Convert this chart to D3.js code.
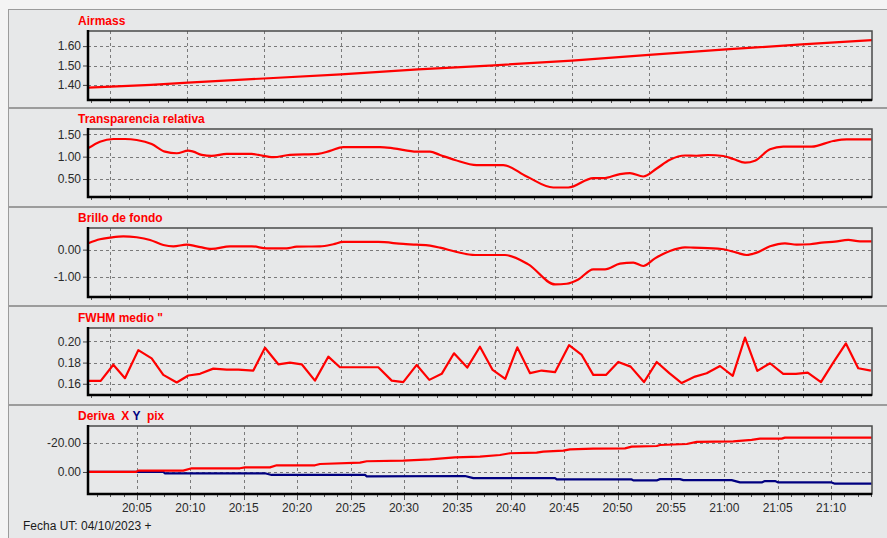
<!DOCTYPE html>
<html>
<head>
<meta charset="utf-8">
<script src="https://cdn.jsdelivr.net/npm/d3@7"></script>
<style>
  body { margin: 0; background: #f3f3f3; }
  svg { display: block; font-family: "Liberation Sans", Arial, sans-serif; }
</style>
</head>
<body>
<div id="chart"></div>
<script>
// tiempo en minutos desde 20:00 UT del 04/10/2023
const airmassT = [0.42, 6.32, 9.78, 16.90, 24.11, 31.32, 38.43, 45.74, 52.95, 60.16, 67.27, 73.83];
const airmassV = [1.386, 1.400, 1.412, 1.433, 1.454, 1.480, 1.501, 1.525, 1.555, 1.583, 1.609, 1.631];

const transT = [0.45, 1.54, 2.79, 3.88, 4.98, 6.38, 7.63, 8.73, 9.81, 10.28, 11.07, 12.0, 13.41, 15.75, 16.37, 17.77, 19.33, 21.98, 23.08, 24.32,
  27.76, 29.01, 31.2, 32.44, 33.38, 34.78, 36.81, 39.31, 41.5, 43.99, 45.39, 47.73, 48.67, 50.23, 51.17, 52.41, 53.67, 54.91, 56.32, 57.41,
  58.5, 59.9, 60.84, 61.94, 62.87, 64.28, 65.52, 68.18, 70.2, 71.46, 73.8];
const transV = [1.19, 1.335, 1.395, 1.395, 1.373, 1.283, 1.112, 1.076, 1.134, 1.112, 1.04, 1.018, 1.062, 1.062, 1.04, 0.988, 1.04, 1.062, 1.129, 1.212,
  1.212, 1.187, 1.112, 1.112, 1.037, 0.926, 0.812, 0.812, 0.556, 0.31, 0.31, 0.52, 0.52, 0.61, 0.632, 0.556, 0.735, 0.93, 1.026, 1.02,
  1.037, 1.015, 0.948, 0.866, 0.91, 1.164, 1.223, 1.223, 1.35, 1.387, 1.387];

const brilloT = [0.45, 1.54, 2.48, 3.73, 4.98, 6.23, 7.47, 8.41, 9.66, 10.6, 12.0, 13.72, 15.75, 17.15, 19.02, 19.96, 22.14, 23.39, 24.32, 27.6,
  29.94, 31.2, 32.44, 33.38, 34.94, 36.66, 39.47, 41.65, 44.15, 45.24, 46.33, 47.73, 48.83, 50.23, 51.48, 52.41, 53.51, 54.91, 56.32, 57.1,
  59.75, 61.16, 62.09, 63.03, 64.28, 65.68, 66.77, 68.02, 69.12, 70.36, 71.61, 72.7, 73.8];
const brilloV = [0.235, 0.383, 0.444, 0.494, 0.457, 0.358, 0.173, 0.123, 0.185, 0.123, 0.025, 0.123, 0.123, 0.05, 0.05, 0.111, 0.123, 0.2, 0.284, 0.284,
  0.21, 0.185, 0.148, 0.074, -0.086, -0.198, -0.198, -0.543, -1.284, -1.26, -1.1, -0.728, -0.728, -0.518, -0.481, -0.605, -0.321, -0.05, 0.086, 0.074,
  0.025, -0.111, -0.198, -0.111, 0.123, 0.235, 0.185, 0.2, 0.26, 0.296, 0.358, 0.309, 0.309];

const fwhmT = [0.45, 1.61, 2.79, 3.88, 5.13, 6.38, 7.47, 8.73, 9.81, 10.91, 12.15, 13.41, 14.49, 15.90, 16.99, 18.24, 19.33, 20.43, 21.67, 22.92,
  24.01, 27.60, 28.86, 29.94, 31.20, 32.38, 33.54, 34.69, 35.93, 37.12, 38.31, 39.49, 40.62, 41.81, 42.90, 44.15, 45.46, 46.65, 47.73, 48.92,
  50.07, 51.23, 52.48, 53.67, 54.85, 56.01, 57.26, 58.35, 59.60, 60.79, 61.94, 63.09, 64.28, 65.52, 66.71, 67.81, 69.05, 70.20, 71.39, 72.54, 73.73];
const fwhmV = [0.1628, 0.1628, 0.178, 0.1653, 0.1918, 0.184, 0.1684, 0.1612, 0.1678, 0.1694, 0.1743, 0.1734, 0.1734, 0.1725, 0.194, 0.1784, 0.180, 0.1784, 0.163, 0.1856,
  0.1756, 0.1756, 0.163, 0.1616, 0.1778, 0.1637, 0.1694, 0.1888, 0.1753, 0.195, 0.1731, 0.1647, 0.1944, 0.170, 0.1725, 0.1710, 0.1965, 0.1872, 0.1684, 0.1684,
  0.1806, 0.1762, 0.1616, 0.1806, 0.170, 0.1607, 0.1668, 0.170, 0.1768, 0.1675, 0.2037, 0.1722, 0.1794, 0.1694, 0.1694, 0.1706, 0.1616, 0.180, 0.1981, 0.1747, 0.1725];

const derivaXT = [0.45, 4.9, 5.13, 9.34, 10.13, 14.65, 15.12, 17.46, 18.09, 21.67, 22.14, 25.89, 26.52, 29.94, 32.44, 34.78, 37.12, 38.99, 39.93, 42.43,
  43.05, 44.92, 45.55, 47.73, 50.7, 51.33, 53.67, 53.98, 56.48, 57.41, 60.84, 62.56, 63.34, 65.37, 65.68, 73.8];
const derivaXV = [0, 0, -0.92, -0.92, -2.53, -2.53, -3.2, -3.2, -4.6, -4.6, -5.5, -6.4, -7.4, -7.8, -8.7, -10.1, -10.6, -11.7, -12.9, -13.3,
  -14.0, -14.7, -15.6, -16.1, -16.3, -17.5, -17.9, -18.6, -19.3, -20.7, -21.1, -22.1, -23.0, -23.0, -23.7, -23.7];

const derivaYT = [0.45, 7.47, 7.63, 16.99, 17.62, 26.36, 26.52, 35.72, 36.5, 44.15, 44.31, 51.33, 51.48, 53.67, 53.98, 55.85, 56.17, 60.69, 61.47, 63.5,
  63.81, 64.75, 65.06, 70.05, 70.36, 73.8];
const derivaYV = [0, 0, 0.92, 0.92, 2.07, 2.07, 2.99, 2.8, 4.27, 4.27, 5.17, 5.17, 5.84, 5.84, 4.94, 4.94, 5.6, 5.6, 7.2, 7.2,
  6.3, 6.3, 7.2, 7.2, 8.1, 8.1];

// marcas de la rejilla vertical de los paneles superiores (minutos)
const upperGridT = [2.48, 9.69, 16.90, 24.11, 31.32, 38.53, 45.74, 52.95, 60.16, 67.37];

const BASE = Date.UTC(2023, 9, 4, 20, 0, 0);
const toDate = m => new Date(BASE + m * 60000);
const zip = (t, v) => t.map((d, i) => ({ t: toDate(d), v: v[i] }));

const RED = "#ff0000", BLUE = "#000080";
const fmt = d3.formatLocale({ decimal: ".", thousands: ",", grouping: [3], currency: ["", ""], minus: "-" }).format(".2f");

const W = 887, H = 538;
const left = 88, right = 872;

const panels = [
  { title: [{ t: "Airmass", c: RED }], top: 9.5, y0: 31, y1: 100, dom: [1.678, 1.322], ticks: [1.4, 1.5, 1.6],
    series: [{ d: zip(airmassT, airmassV), c: RED }] },
  { title: [{ t: "Transparencia relativa", c: RED }], top: 108.5, y0: 129, y1: 197, dom: [1.618, 0.098], ticks: [0.5, 1.0, 1.5],
    series: [{ d: zip(transT, transV), c: RED, curve: d3.curveMonotoneX }] },
  { title: [{ t: "Brillo de fondo", c: RED }], top: 207.5, y0: 228, y1: 297, dom: [0.80, -1.75], ticks: [-1, 0],
    series: [{ d: zip(brilloT, brilloV), c: RED, curve: d3.curveMonotoneX }] },
  { title: [{ t: "FWHM medio \"", c: RED }], top: 306.5, y0: 328, y1: 395, dom: [0.2127, 0.1494], ticks: [0.16, 0.18, 0.20],
    series: [{ d: zip(fwhmT, fwhmV), c: RED }] },
  { title: [{ t: "Deriva  ", c: RED }, { t: "X ", c: RED }, { t: "Y ", c: BLUE }, { t: " pix", c: RED }], top: 405.5, y0: 426, y1: 494,
    dom: [-31.7, 15.2], ticks: [-20, 0], bottom: true,
    series: [{ d: zip(derivaYT, derivaYV), c: BLUE }, { d: zip(derivaXT, derivaXV), c: RED }] }
];

const x = d3.scaleUtc().domain([toDate(0.42), toDate(73.83)]).range([left, right]);

const svg = d3.select("#chart").append("svg").attr("width", W).attr("height", H);
svg.append("rect").attr("width", W).attr("height", H).attr("fill", "#f4f4f4");

panels.forEach((p, i) => {
  const g = svg.append("g");
  const h = i < panels.length - 1 ? 98 : 200;
  g.append("rect").attr("x", 8.5).attr("y", p.top).attr("width", 900).attr("height", h)
    .attr("fill", "#e7e8e9").attr("stroke", "#9c9c9c");

  const y = d3.scaleLinear().domain(p.dom).range([p.y0, p.y1]);

  // titulo
  const title = g.append("text").attr("x", 78).attr("y", p.y0 - 6)
    .attr("font-size", 12).attr("font-weight", "bold").attr("xml:space", "preserve");
  p.title.forEach(s => title.append("tspan").attr("fill", s.c).text(s.t));

  // rejilla
  const gridT = p.bottom ? x.ticks(d3.utcMinute.every(5)) : upperGridT.map(toDate);
  g.append("g").selectAll("line").data(gridT).join("line")
    .attr("x1", d => Math.round(x(d)) + 0.5).attr("x2", d => Math.round(x(d)) + 0.5)
    .attr("y1", p.y0).attr("y2", p.y1)
    .attr("stroke", "#7a7a7a").attr("stroke-dasharray", "3,3");
  g.append("g").selectAll("line").data(p.ticks).join("line")
    .attr("x1", left).attr("x2", right)
    .attr("y1", d => Math.round(y(d)) + 0.5).attr("y2", d => Math.round(y(d)) + 0.5)
    .attr("stroke", "#7a7a7a").attr("stroke-dasharray", "3,3");

  // eje y
  const yAxis = g.append("g").attr("transform", `translate(${left},0)`)
    .call(d3.axisLeft(y).tickValues(p.ticks).tickFormat(fmt).tickSize(5).tickPadding(2));
  yAxis.select(".domain").remove();
  yAxis.selectAll("line").attr("stroke", "#444");
  yAxis.selectAll("text").attr("font-size", 12).attr("fill", "#2a2a2a")
    .attr("font-family", "\"Liberation Sans\", Arial, sans-serif");

  // marcas menores del eje x
  let minor;
  if (p.bottom) {
    minor = d3.range(0, 75, 1.25).map(toDate);
  } else {
    const step = (upperGridT[1] - upperGridT[0]) / 4;
    minor = d3.range(upperGridT[0] - step * 4, 76, step).map(toDate);
  }
  minor = minor.filter(d => d >= x.domain()[0] && d <= x.domain()[1]);
  g.append("g").selectAll("line").data(minor).join("line")
    .attr("x1", d => Math.round(x(d)) + 0.5).attr("x2", d => Math.round(x(d)) + 0.5)
    .attr("y1", p.y1).attr("y2", d => p.y1 + (p.bottom && gridT.some(t => +t === +d) ? 6 : 3))
    .attr("stroke", "#555");

  if (p.bottom) {
    g.append("g").selectAll("text").data(gridT).join("text")
      .attr("x", d => x(d)).attr("y", p.y1 + 18)
      .attr("text-anchor", "middle").attr("font-size", 12).attr("fill", "#2a2a2a")
      .text(d3.utcFormat("%H:%M"));
  }

  // series
  const clipId = "clip" + i;
  g.append("clipPath").attr("id", clipId).append("rect")
    .attr("x", left).attr("y", p.y0).attr("width", right - left).attr("height", p.y1 - p.y0);
  p.series.forEach(s => {
    const line = d3.line().x(d => x(d.t)).y(d => y(d.v)).curve(s.curve || d3.curveLinear);
    g.append("path").datum(s.d).attr("d", line).attr("clip-path", `url(#${clipId})`)
      .attr("fill", "none").attr("stroke", s.c).attr("stroke-width", 2.2).attr("stroke-linejoin", "round");
  });

  // marco
  g.append("rect").attr("x", left).attr("y", p.y0).attr("width", right - left).attr("height", p.y1 - p.y0)
    .attr("fill", "none").attr("stroke", "#4a4a4a").attr("stroke-width", 1.5);
  g.append("path").attr("d", `M${left},${p.y0 - 1}V${p.y1}H${right}`)
    .attr("fill", "none").attr("stroke", "#000").attr("stroke-width", 2.5);
});

svg.append("text").attr("x", 23).attr("y", 530).attr("font-size", 12).attr("fill", "#1a1a1a")
  .text("Fecha UT: 04/10/2023 +");
</script>
</body>
</html>
